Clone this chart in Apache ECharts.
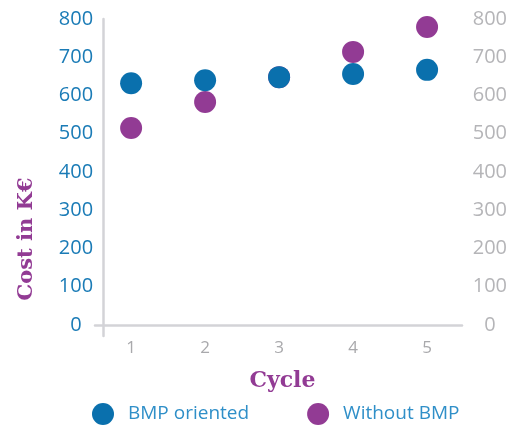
<!DOCTYPE html>
<html>
<head>
<meta charset="utf-8">
<script src="https://cdn.jsdelivr.net/npm/echarts@6/dist/echarts.min.js"></script>
<style>
  html, body { margin: 0; padding: 0; background: #fff; }
  #chart { width: 510px; height: 426px; }
</style>
</head>
<body>
<div id="chart"></div>
<script>
// data
const cycles = [1, 2, 3, 4, 5];
const bmpOriented = [632, 640, 648, 656, 667];
const withoutBmp = [515, 583, 648, 714, 779];
const yTicks = [0, 100, 200, 300, 400, 500, 600, 700, 800];

const BLUE = '#0a70ad';
const PURPLE = '#923b94';
const AXIS_BLUE = '#1a7bb6';
const GREY = '#b5b5b8';
const LINE = '#d3d3d7';
const FONT = '"Open Sans", sans-serif';
const SLAB = '"DejaVu Serif", serif';

const toPairs = (vals) => cycles.map((c, i) => [c, vals[i]]);

// helper axes that only draw the little stubs past the origin
const lineOnly = (extra) => Object.assign({
    type: 'value', min: 0, max: 1,
    axisLabel: { show: false }, axisTick: { show: false }, splitLine: { show: false }
}, extra);

const option = {
    animation: false,
    grid: [
        { left: 103, right: 48, top: 19, bottom: 101 },   // data
        { left: 95, right: 48, top: 19, bottom: 101 },    // x axis line
        { left: 103, right: 48, top: 19, bottom: 90 }     // y axis line
    ],
    xAxis: [
        {
            type: 'value', gridIndex: 0,
            min: 0.62, max: 5.47,
            axisLine: { show: false },
            axisTick: { show: false },
            splitLine: { show: false },
            axisLabel: {
                color: '#a9a9ac', fontFamily: FONT, fontSize: 17, margin: 15,
                formatter: (v) => cycles.includes(v) ? String(v) : ''
            },
            name: 'Cycle',
            nameLocation: 'middle',
            nameGap: 45,
            nameTextStyle: { color: PURPLE, fontFamily: SLAB, fontWeight: 'bold', fontSize: 22 }
        },
        lineOnly({ gridIndex: 1, axisLine: { show: true, lineStyle: { color: LINE, width: 2.5 } } }),
        lineOnly({ gridIndex: 2, show: false })
    ],
    yAxis: [
        {
            type: 'value', gridIndex: 0, position: 'left',
            min: yTicks[0], max: yTicks[yTicks.length - 1], interval: 100,
            axisLine: { show: false },
            axisTick: { show: false },
            splitLine: { show: false },
            axisLabel: { color: AXIS_BLUE, fontFamily: FONT, fontSize: 20, align: 'center', margin: 27 }
        },
        {
            type: 'value', gridIndex: 0, position: 'right',
            min: yTicks[0], max: yTicks[yTicks.length - 1], interval: 100,
            axisLine: { show: false },
            axisTick: { show: false },
            splitLine: { show: false },
            axisLabel: { color: GREY, fontFamily: FONT, fontSize: 20, align: 'center', margin: 28 }
        },
        lineOnly({ gridIndex: 1, show: false }),
        lineOnly({ gridIndex: 2, axisLine: { show: true, lineStyle: { color: LINE, width: 2.5 } } })
    ],
    legend: {
        data: ['BMP oriented', 'Without BMP'],
        left: 87, top: 398,
        icon: 'circle',
        itemWidth: 22, itemHeight: 22,
        itemGap: 58,
        textStyle: { color: '#2f8fc8', fontFamily: FONT, fontSize: 19, padding: [0, 0, 0, 9] }
    },
    graphic: [{
        type: 'text',
        x: 27, y: 239,
        rotation: Math.PI / 2,
        style: {
            text: 'Cost in K€',
            fill: PURPLE,
            font: 'bold 21px "DejaVu Serif", serif',
            align: 'center', verticalAlign: 'middle'
        }
    }],
    series: [
        {
            name: 'Without BMP', type: 'scatter',
            xAxisIndex: 0, yAxisIndex: 0,
            symbolSize: 22,
            itemStyle: { color: PURPLE, opacity: 1 },
            data: toPairs(withoutBmp)
        },
        {
            name: 'BMP oriented', type: 'scatter',
            xAxisIndex: 0, yAxisIndex: 0,
            symbolSize: 22,
            itemStyle: { color: BLUE, opacity: 1 },
            data: toPairs(bmpOriented)
        }
    ]
};

echarts.init(document.getElementById('chart')).setOption(option);
</script>
</body>
</html>
